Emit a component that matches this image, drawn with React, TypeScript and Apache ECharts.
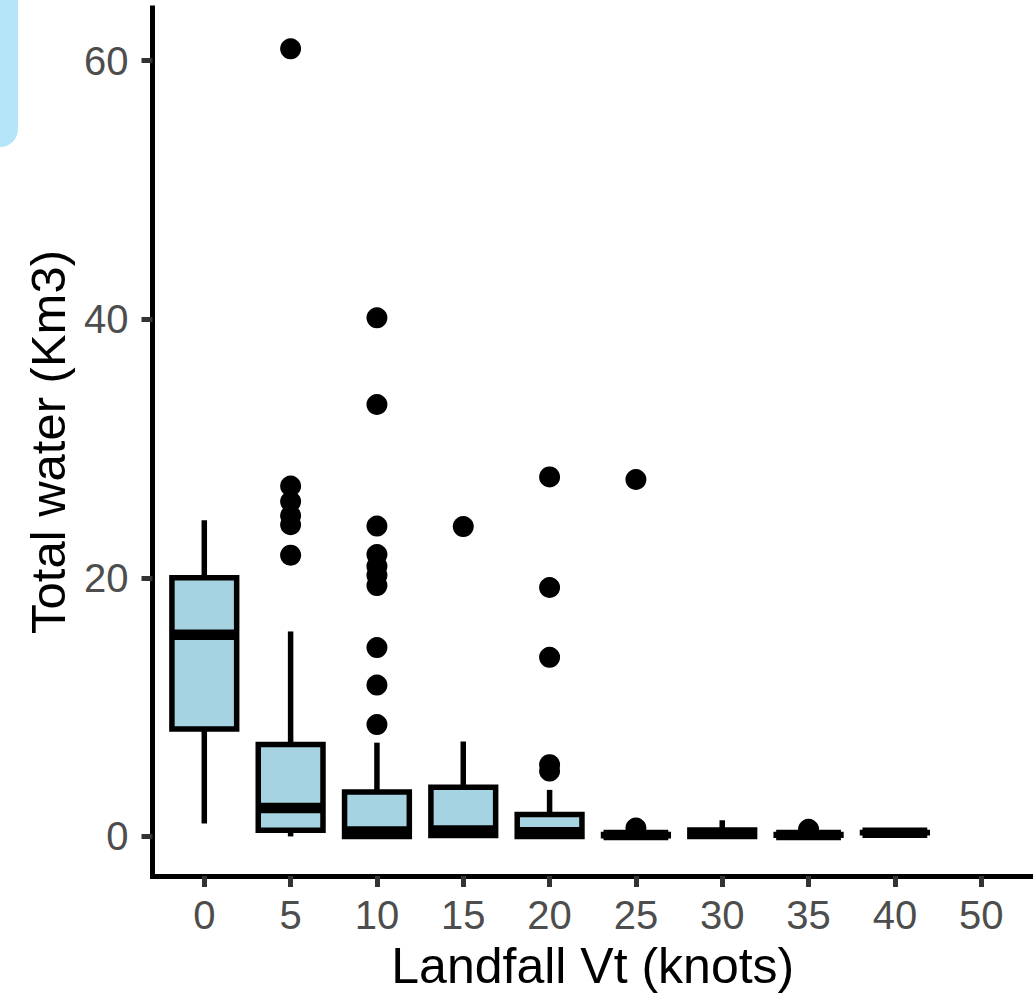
import React, { useEffect, useRef } from "react";
import * as echarts from "echarts";

const categories = ["0", "5", "10", "15", "20", "25", "30", "35", "40", "50"];
// box statistics per category (null = no box drawn)
const boxMin = [1.0, 0.0, 0.0, 0.0, 0.0, 0.0, 0.0, 0.05, 0.25, null];
const boxQ1 = [8.3, 0.48, 0.0, 0.08, 0.0, 0.05, 0.0, 0.1, 0.28, null];
const boxMedian = [15.6, 2.2, 0.38, 0.46, 0.33, 0.12, 0.2, 0.12, 0.29, null];
const boxQ3 = [20.0, 7.1, 3.43, 3.8, 1.7, 0.14, 0.5, 0.15, 0.3, null];
const boxMax = [24.45, 15.85, 7.25, 7.34, 3.6, 0.3, 1.25, 0.3, 0.32, null];

const outlierCats = [
  "5", "5", "5", "5", "5", "5",
  "10", "10", "10", "10", "10", "10", "10", "10", "10", "10",
  "15",
  "20", "20", "20", "20", "20",
  "25", "25",
  "35",
];
const outlierValues = [
  60.9, 27.1, 25.9, 24.8, 24.1, 21.75,
  40.1, 33.4, 24.0, 21.8, 20.9, 20.2, 19.4, 14.6, 11.7, 8.65,
  23.96,
  27.8, 19.25, 13.85, 5.55, 5.05,
  27.6, 0.65,
  0.55,
];

const yTicks = [0, 20, 40, 60];

const FONT = "'Liberation Sans', Arial, Helvetica, sans-serif";

export default function App() {
  const ref = useRef<HTMLDivElement>(null);

  useEffect(() => {
    if (!ref.current) return;
    const chart = echarts.init(ref.current, undefined, { renderer: "svg" });

    const boxData: any[] = [];
    categories.forEach((c, i) => {
      if (boxMin[i] === null) return;
      boxData.push([i, boxMin[i], boxQ1[i], boxMedian[i], boxQ3[i], boxMax[i]]);
    });
    const outlierData = outlierCats.map((c, i) => [categories.indexOf(c), outlierValues[i]]);
    const catIdx = categories.map((_, i) => i);

    chart.setOption({
      animation: false,
      backgroundColor: "#ffffff",
      graphic: [
        {
          type: "rect",
          shape: { x: -40, y: -40, width: 58, height: 187, r: 18 },
          style: { fill: "#b4e5f8" },
          z: -1,
        },
      ],
      grid: { left: 152.5, right: 0, top: 8, bottom: 117, containLabel: false },
      xAxis: {
        type: "value",
        min: -0.6,
        max: 9.6,
        name: "Landfall Vt (knots)",
        nameLocation: "middle",
        nameGap: 65,
        nameTextStyle: { fontSize: 50, color: "#000", fontFamily: FONT },
        splitLine: { show: false },
        axisLine: { show: true, onZero: false, lineStyle: { color: "#000", width: 5, cap: "square" } },
        axisTick: { show: true, length: 11, lineStyle: { color: "#333", width: 5 }, customValues: catIdx },
        axisLabel: {
          customValues: catIdx,
          formatter: (v: number) => categories[Math.round(v)] ?? "",
          fontSize: 40,
          color: "#4d4d4d",
          fontFamily: FONT,
          margin: 19,
        },
      },
      yAxis: {
        type: "value",
        min: -3.06,
        max: 64.06,
        name: "Total water (Km3)",
        nameLocation: "middle",
        nameGap: 80,
        nameTextStyle: { fontSize: 49, color: "#000", fontFamily: FONT },
        splitLine: { show: false },
        axisLine: { show: true, onZero: false, lineStyle: { color: "#000", width: 5, cap: "square" } },
        axisTick: { show: true, length: 11, lineStyle: { color: "#333", width: 5 }, customValues: yTicks },
        axisLabel: {
          customValues: yTicks,
          fontSize: 40,
          color: "#4d4d4d",
          fontFamily: FONT,
          margin: 24,
        },
      },
      series: [
        {
          type: "scatter",
          data: outlierData,
          symbol: "circle",
          symbolSize: 21,
          itemStyle: { color: "#000", opacity: 1 },
          z: 2,
        },
        {
          type: "custom",
          data: boxData,
          z: 3,
          encode: { x: 0, y: [1, 2, 3, 4, 5] },
          renderItem: (params: any, api: any) => {
            const x = api.value(0);
            const cMin = api.coord([x, api.value(1)]);
            const cQ1 = api.coord([x, api.value(2)]);
            const cMed = api.coord([x, api.value(3)]);
            const cQ3 = api.coord([x, api.value(4)]);
            const cMax = api.coord([x, api.value(5)]);
            const half = api.size([1, 0])[0] * 0.375;
            const cx = cMed[0];
            const stroke = { stroke: "#000", lineWidth: 5.5, fill: null };
            return {
              type: "group",
              children: [
                { type: "line", shape: { x1: cx, y1: cQ3[1], x2: cx, y2: cMax[1] }, style: stroke },
                { type: "line", shape: { x1: cx, y1: cQ1[1], x2: cx, y2: cMin[1] }, style: stroke },
                {
                  type: "rect",
                  shape: { x: cx - half, y: cQ3[1], width: half * 2, height: cQ1[1] - cQ3[1] },
                  style: { fill: "#a6d3e2", stroke: "#000", lineWidth: 5.5 },
                },
                {
                  type: "line",
                  shape: { x1: cx - half, y1: cMed[1], x2: cx + half, y2: cMed[1] },
                  style: { stroke: "#000", lineWidth: 10.5, fill: null },
                },
              ],
            };
          },
        },
      ],
    });

    return () => chart.dispose();
  }, []);

  return (
    <div
      ref={ref}
      style={{ position: "absolute", left: 0, top: 0, width: 1033, height: 996 }}
    />
  );
}
